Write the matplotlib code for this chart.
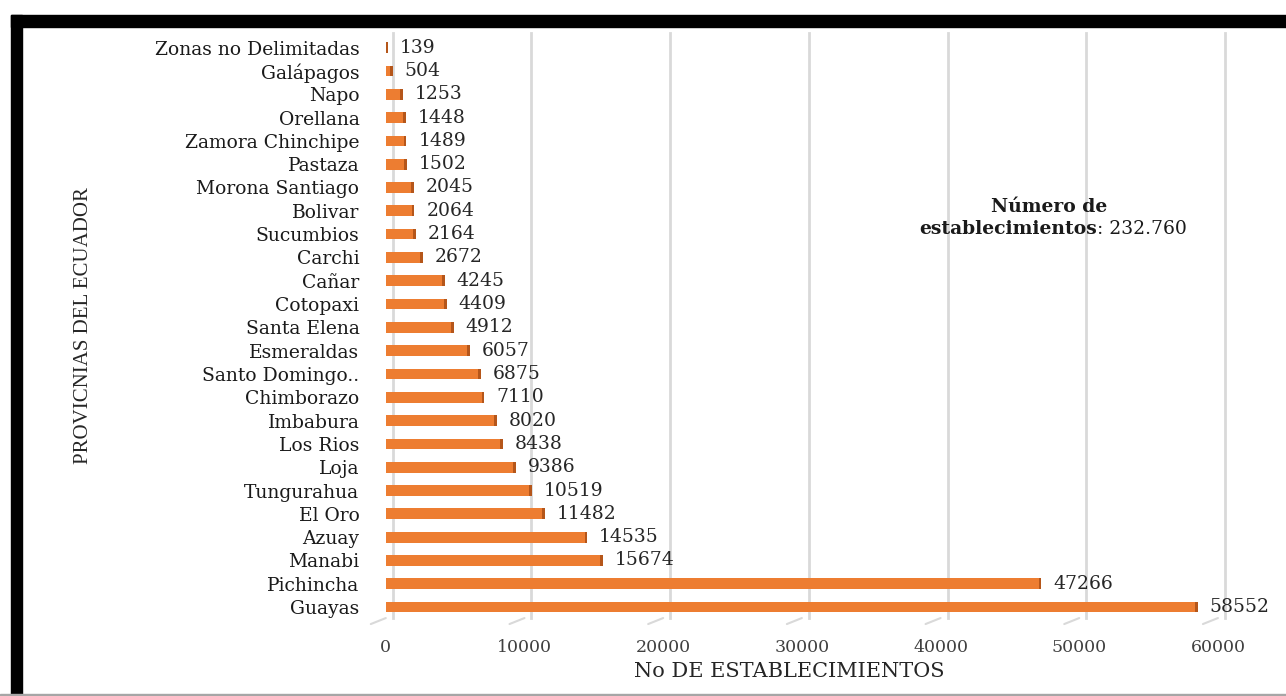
import numpy as np
import matplotlib.pyplot as plt
from matplotlib.patches import Rectangle
from matplotlib.transforms import ScaledTranslation

provincias = ['Guayas', 'Pichincha', 'Manabi', 'Azuay', 'El Oro', 'Tungurahua',
              'Loja', 'Los Rios', 'Imbabura', 'Chimborazo', 'Santo Domingo..',
              'Esmeraldas', 'Santa Elena', 'Cotopaxi', 'Cañar', 'Carchi',
              'Sucumbios', 'Bolivar', 'Morona Santiago', 'Pastaza',
              'Zamora Chinchipe', 'Orellana', 'Napo', 'Galápagos',
              'Zonas no Delimitadas']
establecimientos = [58552, 47266, 15674, 14535, 11482, 10519, 9386, 8438, 8020,
                    7110, 6875, 6057, 4912, 4409, 4245, 2672, 2164, 2064, 2045,
                    1502, 1489, 1448, 1253, 504, 139]
xticks = [0, 10000, 20000, 30000, 40000, 50000, 60000]

SERIF = 'DejaVu Serif'
naranja = '#ED7D31'
borde = '#B5561A'

fig = plt.figure(figsize=(12.86, 6.96), dpi=100)
ax = fig.add_axes([0.300, 0.112, 0.664, 0.841])

y = np.arange(len(provincias))
vals = np.array(establecimientos)

# gridlines sit a few pixels right of the ticks (3d look)
shift = ScaledTranslation(7 / 100, 0, fig.dpi_scale_trans)
for t in xticks:
    ax.plot([t, t], [0, 1], color='#D9D9D9', lw=2,
            transform=ax.get_xaxis_transform() + shift, zorder=0, clip_on=False)
    # little floor stroke at the base of each gridline
    ax.annotate('', xy=(t, -0.47), xytext=(-15, -6), textcoords='offset pixels',
                arrowprops=dict(arrowstyle='-', color='#D9D9D9', lw=1.5,
                                shrinkA=0, shrinkB=0),
                annotation_clip=False)

ax.barh(y, vals, height=0.46, color=naranja, zorder=2)
cap = np.minimum(200, vals)
ax.barh(y, cap, left=vals - cap, height=0.46, color=borde, zorder=3)

for yi, v in zip(y, vals):
    ax.annotate(str(v), (v, yi), xytext=(8.5, 0), textcoords='offset points',
                ha='left', va='center', fontsize=13.5, family=SERIF,
                color='#262626', annotation_clip=False)

ax.set_xlim(0, 61570)
ax.set_ylim(-0.47, 24.64)
ax.set_xticks(xticks)
ax.set_xticklabels([str(t) for t in xticks], family=SERIF, fontsize=12.5,
                   color='#404040')
ax.set_yticks(y)
ax.set_yticklabels(provincias, family=SERIF, fontsize=13.5, color='#1a1a1a')
ax.tick_params(axis='x', length=0, pad=15)
ax.tick_params(axis='y', length=0, pad=19)
for s in ax.spines.values():
    s.set_visible(False)

ax.set_xlabel('No DE ESTABLECIMIENTOS', family=SERIF, fontsize=15,
              color='#262626')
ax.xaxis.set_label_coords(0.473, -0.075)
ax.set_ylabel('PROVICNIAS DEL ECUADOR', family='Liberation Serif', fontsize=15,
              color='#262626')
ax.yaxis.set_label_coords(-0.343, 0.50)

ax.text(0.777, 0.7026, 'Número de', transform=ax.transAxes, ha='center',
        va='center', family=SERIF, fontsize=13.5, fontweight='bold',
        color='#1a1a1a')
ax.text(0.8326, 0.665, 'establecimientos', transform=ax.transAxes, ha='right',
        va='center', family=SERIF, fontsize=13.5, fontweight='bold',
        color='#1a1a1a')
ax.text(0.8326, 0.665, ': 232.760', transform=ax.transAxes, ha='left',
        va='center', family=SERIF, fontsize=13.5, color='#1a1a1a')

# black frame along the top and left, thin grey rule at the bottom
W, H = 1286, 696
fig.patches.append(Rectangle((11 / W, 1 - 27 / H), 1 - 11 / W, 12 / H,
                             transform=fig.transFigure, color='black'))
fig.patches.append(Rectangle((11 / W, 0), 11 / W, 1 - 15 / H,
                             transform=fig.transFigure, color='black'))
fig.patches.append(Rectangle((0, 0), 1, 2 / H, transform=fig.transFigure,
                             color='#A6A6A6'))

fig.savefig('out.png', dpi=100)
